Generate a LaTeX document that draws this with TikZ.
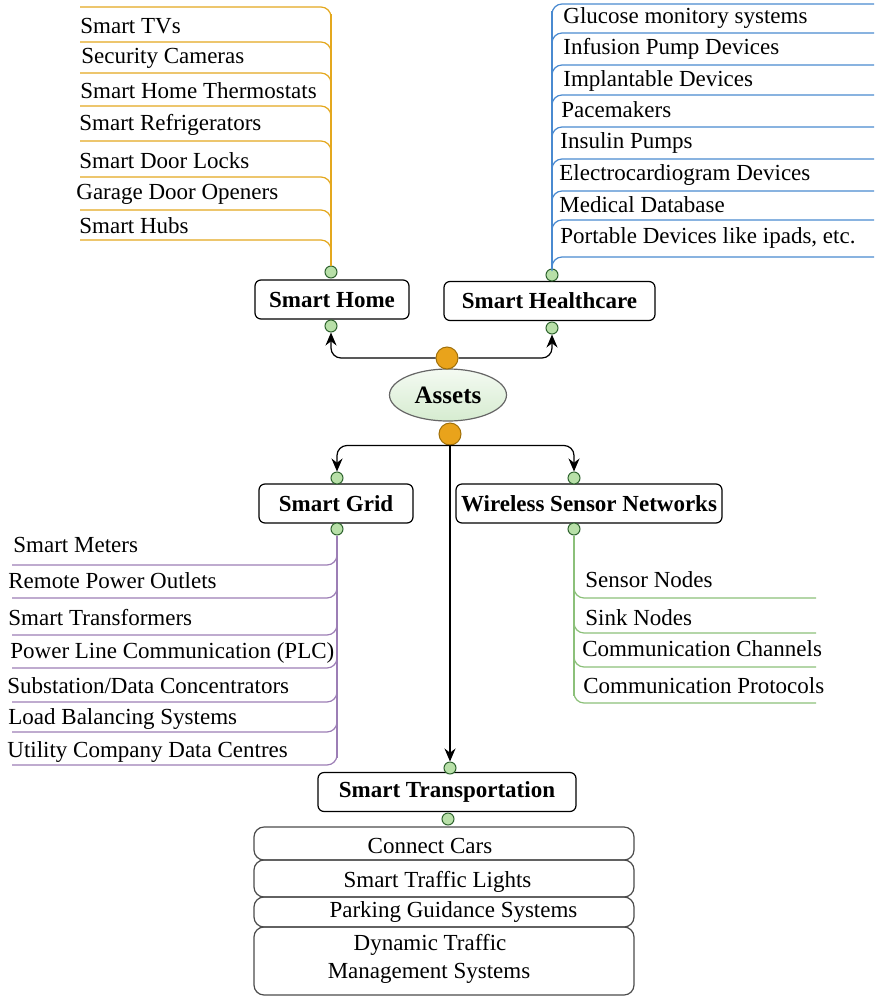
\documentclass[tikz,border=0pt]{standalone}
\usepackage{fontspec}
\setmainfont{Liberation Serif}
\usetikzlibrary{shapes.geometric,arrows.meta}

\definecolor{homeclr}{RGB}{228,168,30}
\definecolor{healthclr}{RGB}{74,138,208}
\definecolor{gridclr}{RGB}{156,126,181}
\definecolor{wsnclr}{RGB}{140,192,122}
\definecolor{dotfill}{RGB}{184,224,168}
\definecolor{dotline}{RGB}{47,100,47}
\definecolor{hubfill}{RGB}{233,163,27}
\definecolor{hubline}{RGB}{160,112,10}
\definecolor{assettop}{RGB}{244,250,242}
\definecolor{assetbot}{RGB}{214,236,208}

\tikzset{
  dot/.style={circle,draw=dotline,fill=dotfill,inner sep=0pt,minimum size=6pt,line width=0.5pt},
  hub/.style={circle,draw=hubline,fill=hubfill,inner sep=0pt,minimum size=11pt,line width=0.5pt},
  mainbox/.style={draw,rounded corners=3pt,minimum height=19.5pt,inner sep=0pt,line width=0.6pt,
    font=\fontsize{11.5}{13.8}\selectfont\bfseries},
  item/.style={anchor=base west,inner sep=0pt,font=\fontsize{11.5}{13.8}\selectfont},
  conn/.style={-{Stealth[length=6.5pt,width=5.5pt]},rounded corners=5pt,line width=0.6pt},
  branch/.style={line width=0.6pt,rounded corners=5pt},
}

\begin{document}
\begin{tikzpicture}[x=0.5pt,y=-0.5pt]
\useasboundingbox (0,0) rectangle (874,996);

        % centre
        \node[ellipse,draw=black!60,top color=assettop,bottom color=assetbot,line width=0.6pt,
              minimum width=58.5pt,minimum height=26pt,inner sep=0pt,
              font=\fontsize{12.5}{15}\selectfont\bfseries] (assets) at (448,395) {Assets};
        \node[hub] (otop) at (447,358) {};
        \node[hub] (obot) at (450,434) {};

        % categories
        \begin{scope}[every node/.style={mainbox}]
          \node[minimum width=77pt]    (home)   at (332,299.5) {Smart Home};
          \node[minimum width=105.5pt] (health) at (549.5,301) {Smart Healthcare};
          \node[minimum width=77pt]    (grid)   at (336,503.5) {Smart Grid};
          \node[minimum width=133pt]   (wsn)    at (589,503.5) {Wireless Sensor Networks};
          \node[minimum width=129pt]   (trans)  at (447,792)   {Smart Transportation};
        \end{scope}

        \begin{scope}[every node/.style={dot}]
          \node (homeT)   at (331,272) {};
          \node (homeB)   at (331,326) {};
          \node (healthT) at (552,275) {};
          \node (healthB) at (552,328) {};
          \node (gridT)   at (337,478) {};
          \node (gridB)   at (337,529) {};
          \node (wsnT)    at (574,478) {};
          \node (wsnB)    at (574,529) {};
          \node (transT)  at (450,768) {};
          \node (transB)  at (448,819) {};
        \end{scope}

        % links from the centre
        \draw[conn] (otop) -| (homeB);
        \draw[conn] (otop) -| (healthB);
        \draw[conn] (obot.south) -| (gridT);
        \draw[conn] (obot.south) -| (wsnT);
        \draw[conn] (obot) -- (transT);

        % smart home
        \begin{scope}[every path/.style={branch,draw=homeclr}]
          \foreach \y in {7,42,73,106,141,177,210,240}
            \draw (80,\y) -- (331,\y) -- (331,\y+14);
          \draw (331,14) -- (homeT);
        \end{scope}
        \begin{scope}[every node/.style={item}]
          \node (h1) at (80,33)  {Smart TVs};
          \node (h2) at (81,63)  {Security Cameras};
          \node (h3) at (80,98)  {Smart Home Thermostats};
          \node (h4) at (79,130) {Smart Refrigerators};
          \node (h5) at (79,168) {Smart Door Locks};
          \node (h6) at (76,199) {Garage Door Openers};
          \node (h7) at (79,233) {Smart Hubs};
        \end{scope}

        % smart healthcare
        \begin{scope}[every path/.style={branch,draw=healthclr}]
          \foreach \y in {4,33,65,95,127,159,191,220,257}
            \draw (552,\y+14) -- (552,\y) -- (874,\y);
          \draw (552,11) -- (healthT);
        \end{scope}
        \begin{scope}[every node/.style={item}]
          \node (m1) at (563,23)  {Glucose monitory systems};
          \node (m2) at (563,54)  {Infusion Pump Devices};
          \node (m3) at (563,86)  {Implantable Devices};
          \node (m4) at (561,117) {Pacemakers};
          \node (m5) at (560,148) {Insulin Pumps};
          \node (m6) at (559,180) {Electrocardiogram Devices};
          \node (m7) at (559,212) {Medical Database};
          \node (m8) at (560,243) {Portable Devices like ipads, etc.};
        \end{scope}

        % smart grid
        \begin{scope}[every path/.style={branch,draw=gridclr}]
          \foreach \y in {565,598,635,668,702,732,765}
            \draw (12,\y) -- (337,\y) -- (337,\y-14);
          \draw (gridB) -- (337,758);
        \end{scope}
        \begin{scope}[every node/.style={item}]
          \node (g1) at (13,552) {Smart Meters};
          \node (g2) at (8,588)  {Remote Power Outlets};
          \node (g3) at (8,625)  {Smart Transformers};
          \node (g4) at (10,658) {Power Line Communication (PLC)};
          \node (g5) at (7,693)  {Substation/Data Concentrators};
          \node (g6) at (8,724)  {Load Balancing Systems};
          \node (g7) at (7,757)  {Utility Company Data Centres};
        \end{scope}

        % wireless sensor networks
        \begin{scope}[every path/.style={branch,draw=wsnclr}]
          \foreach \y in {598,633,667,703}
            \draw (574,\y-14) -- (574,\y) -- (816,\y);
          \draw (wsnB) -- (574,696);
        \end{scope}
        \begin{scope}[every node/.style={item}]
          \node (w1) at (585,587) {Sensor Nodes};
          \node (w2) at (585,625) {Sink Nodes};
          \node (w3) at (582,656) {Communication Channels};
          \node (w4) at (583,693) {Communication Protocols};
        \end{scope}

        % smart transportation
        \foreach \a/\b in {827/860,860/897,897/927,927/995}
          \draw[branch,draw=black!70] (254,\a) rectangle (634,\b);
        \begin{scope}[every node/.style={item,anchor=base}]
          \node (t1) at (430,853)   {Connect Cars};
          \node (t2) at (437.5,887) {Smart Traffic Lights};
          \node (t3) at (453.5,917) {Parking Guidance Systems};
          \node (t4) at (430,950)   {Dynamic Traffic};
          \node (t5) at (429,978)   {Management Systems};
        \end{scope}

\end{tikzpicture}
\end{document}
